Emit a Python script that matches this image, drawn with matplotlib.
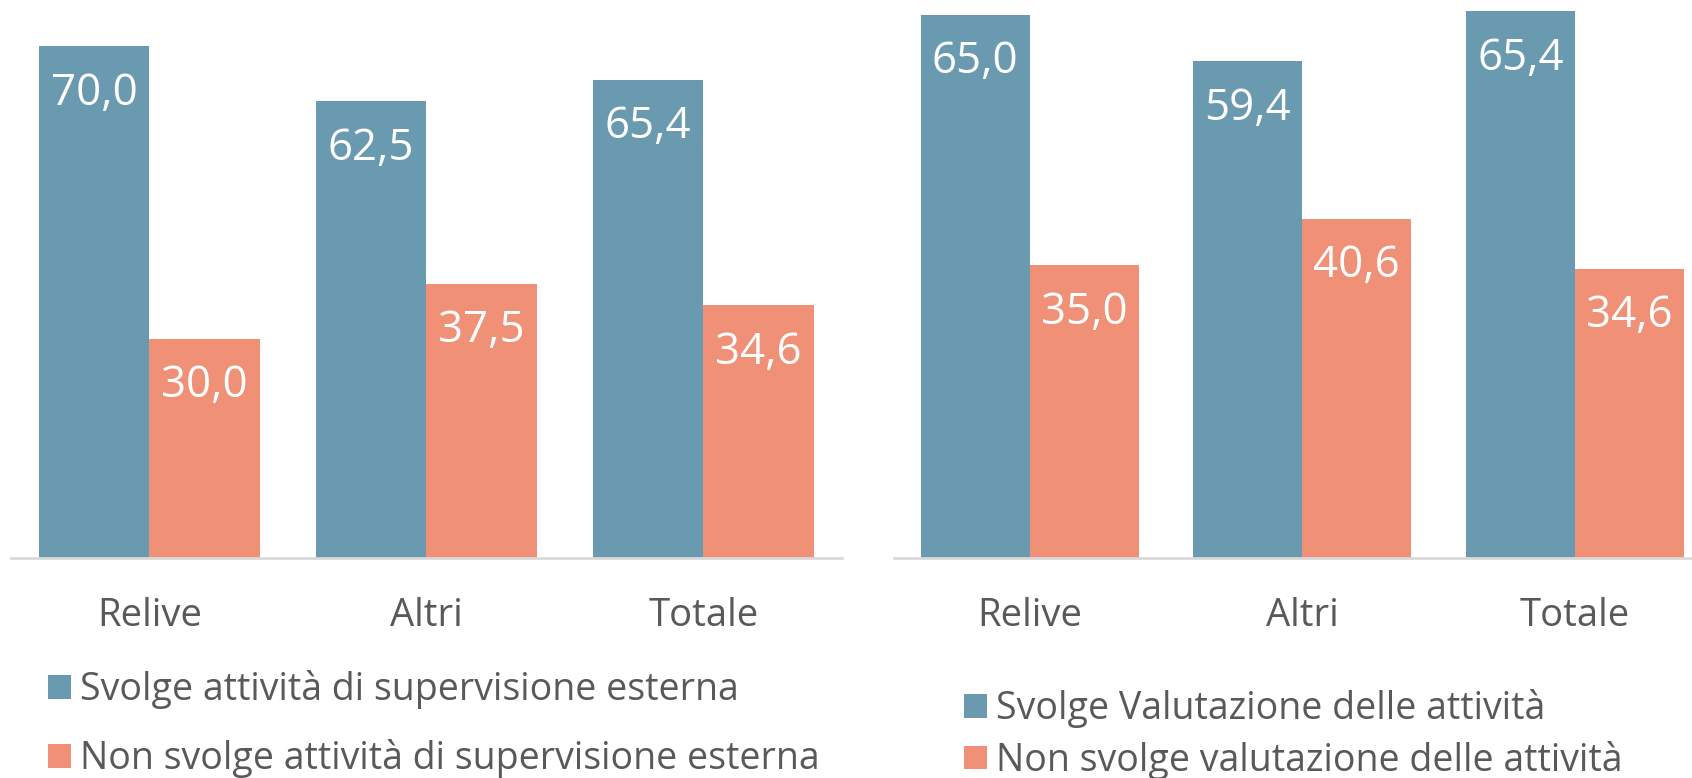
import matplotlib
matplotlib.use('Agg')
import numpy as np
import matplotlib.pyplot as plt

plt.rcParams['font.family'] = ['Open Sans', 'DejaVu Sans']

# Dati
categorie = ['Relive', 'Altri', 'Totale']
sup_si = [70.0, 62.5, 65.4]
sup_no = [30.0, 37.5, 34.6]
val_si = [65.0, 59.4, 65.4]
val_no = [35.0, 40.6, 34.6]

labels_sup = ['Svolge attività di supervisione esterna',
              'Non svolge attività di supervisione esterna']
labels_val = ['Svolge Valutazione delle attività',
              'Non svolge valutazione delle attività']

BLU = '#6A9AAF'
SALMONE = '#F09177'
GRIGIO = '#595959'

W, H = 1692, 778
fig = plt.figure(figsize=(W / 100, H / 100), dpi=100)

base = 558  # pixel della linea di base (dall'alto)
ax1 = fig.add_axes([10.8 / W, (H - base) / H, 831 / W, base / H])
ax2 = fig.add_axes([893.5 / W, (H - base) / H, 817.6 / W, base / H])


def pannello(ax, si, no, ymax, labels, leg_pos, spacing):
    x = np.arange(len(categorie))
    bw = 0.4
    b1 = ax.bar(x - bw / 2, si, bw, color=BLU, label=labels[0])
    b2 = ax.bar(x + bw / 2, no, bw, color=SALMONE, label=labels[1])
    for bars in (b1, b2):
        for r in bars:
            ax.annotate(f'{r.get_height():.1f}'.replace('.', ','),
                        (r.get_x() + r.get_width() / 2, r.get_height()),
                        xytext=(0, -34), textcoords='offset points',
                        ha='center', va='center', color='white', fontsize=31.5)
    ax.set_xlim(-0.5, 2.5)
    ax.set_ylim(0, ymax)
    ax.set_xticks(x)
    ax.set_xticklabels(categorie)
    ax.tick_params(axis='x', length=0, pad=28, labelsize=27.5, labelcolor=GRIGIO)
    ax.set_yticks([])
    for s in ['top', 'left', 'right']:
        ax.spines[s].set_visible(False)
    ax.spines['bottom'].set_color('#D9D9D9')
    ax.spines['bottom'].set_linewidth(2)
    ax.set_facecolor('none')
    leg = ax.legend(loc='upper left', bbox_to_anchor=leg_pos,
                    bbox_transform=fig.transFigure, frameon=False,
                    fontsize=27, handlelength=0.6, handleheight=0.6,
                    handletextpad=0.25, labelspacing=spacing,
                    borderpad=0, borderaxespad=0)
    for t in leg.get_texts():
        t.set_color(GRIGIO)


pannello(ax1, sup_si, sup_no, base / 7.31, labels_sup, (48 / W, 1 - 670 / H), 0.8)
pannello(ax2, val_si, val_no, base / 8.36, labels_val, (964 / W, 1 - 689 / H), 0.34)

fig.savefig('out.png', dpi=100, facecolor='white')
